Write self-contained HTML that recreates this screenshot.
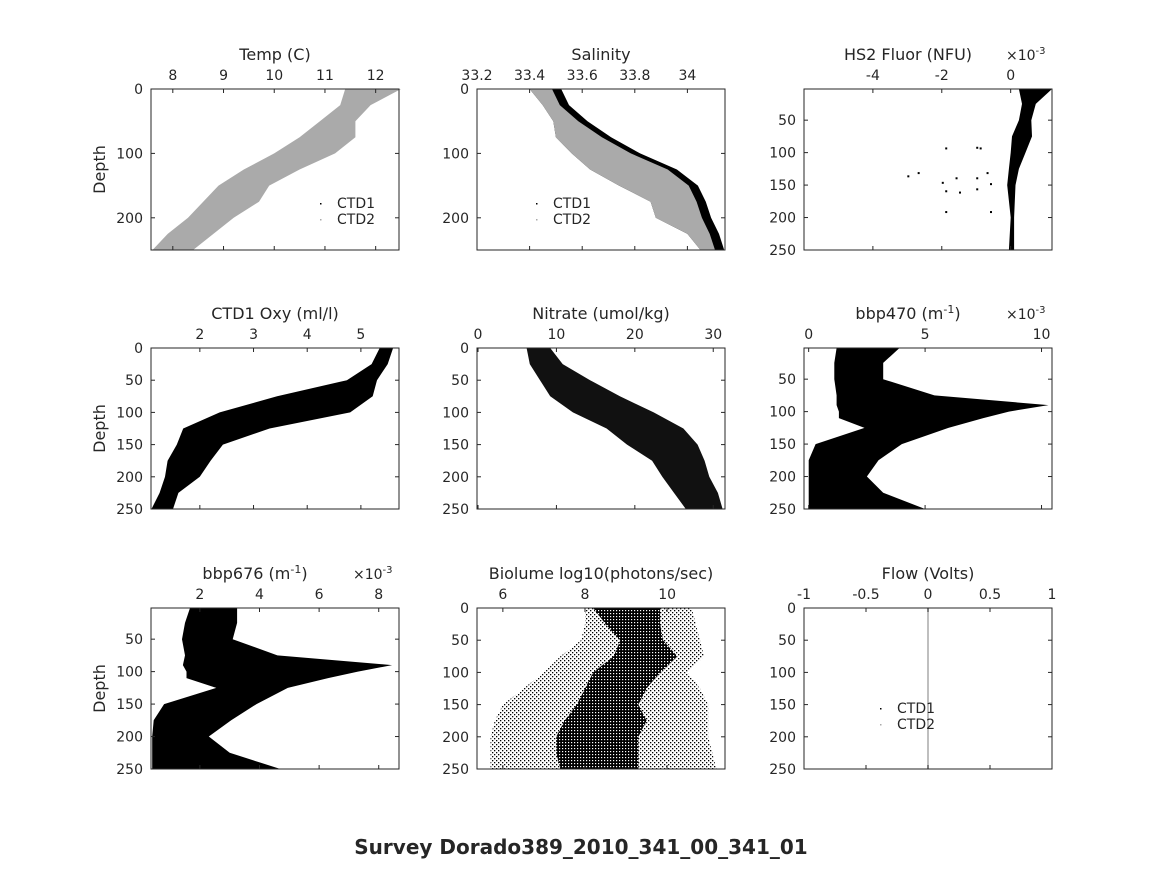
<!DOCTYPE html>
<html><head><meta charset="utf-8"><style>
body{margin:0;background:#fff}
svg text{font-family:"DejaVu Sans","Liberation Sans",sans-serif;fill:#262626}
</style></head><body>
<svg id="fig" width="1164" height="864" xmlns="http://www.w3.org/2000/svg">
<defs>
<pattern id="stip" width="3" height="3" patternUnits="userSpaceOnUse"><rect x="0" y="0" width="3" height="3" fill="#000"/><rect x="1" y="1" width="1.2" height="1.2" fill="#fff"/></pattern>
<pattern id="stip2" width="4" height="4" patternUnits="userSpaceOnUse"><rect x="0" y="0" width="1.3" height="1.3" fill="#000"/><rect x="2" y="2" width="1.3" height="1.3" fill="#000"/></pattern>
</defs>
</svg>
<script>
// ---- data (depth levels and envelope values) ----
const depthLevels = [0,25,50,75,100,125,150,175,200,225,250];
const tempLo = [11.4,11.3,10.9,10.5,10.0,9.4,8.9,8.6,8.3,7.9,7.6];
const tempHi = [12.5,11.9,11.6,11.6,11.2,10.5,9.9,9.7,9.2,8.8,8.4];
const salLo = [33.40,33.45,33.49,33.50,33.56,33.63,33.74,33.86,33.88,34.00,34.05];
const salHi = [33.52,33.55,33.62,33.71,33.82,33.96,34.04,34.07,34.09,34.12,34.14];
const oxyLo = [5.35,5.2,4.74,3.44,2.37,1.69,1.57,1.4,1.35,1.25,1.1];
const oxyHi = [5.6,5.5,5.3,5.22,4.8,3.3,2.43,2.2,2.0,1.6,1.5];
const nitLo = [6.2,6.6,7.9,9.2,12.1,16.4,19,22.2,23.5,25,26.5];
const nitHi = [9.2,10.8,14.3,18.1,22.4,26.2,28,28.9,29.5,30.6,31.2];
const optDepths = [2,25,50,75,90,100,110,125,150,175,200,225,250];
const bbp470Lo = [1.2,1.1,1.1,1.2,1.2,1.3,1.3,2.4,0.3,0.0,0.0,0.0,0.0];
const bbp470Hi = [3.9,3.2,3.2,5.4,10.3,8.6,7.5,6.0,4.0,3.0,2.5,3.2,5.0];
const bbp676Lo = [1.67,1.5,1.4,1.5,1.43,1.55,1.55,2.55,0.8,0.45,0.4,0.4,0.4];
const bbp676Hi = [3.25,3.25,3.1,4.6,8.45,7.3,6.3,4.95,3.9,3.05,2.3,3.0,4.7];
const fluorDepths = [2,25,50,75,100,125,150,200,250];
const fluorLo = [0.24,0.33,0.24,0.04,0.0,-0.05,-0.1,0.0,-0.05];
const fluorHi = [1.2,0.73,0.6,0.62,0.43,0.24,0.14,0.1,0.1];
const fluorSpikeX = [-1.9,-0.9,-1.0,-3.0,-2.7,-2.0,-1.6,-0.7,-1.0,-1.9,-1.5,-0.6,-1.9,-0.6,-1.0];
const fluorSpikeY = [92,92,91,135,130,145,138,130,138,158,160,147,190,190,155];
const bioCoreLo = [8.2,8.5,8.86,8.7,8.2,8.0,7.8,7.5,7.3,7.3,7.4];
const bioCoreHi = [9.83,9.83,9.9,10.25,9.83,9.5,9.3,9.5,9.3,9.3,9.3];
const bioSpreadLo = [8.0,8.0,7.9,7.4,7.0,6.5,6.0,5.8,5.7,5.7,5.7];
const bioSpreadHi = [10.6,10.7,10.8,10.9,10.5,10.8,11.0,11.0,11.0,11.1,11.2];
const flowValues = [0,0];
const flowDepthsLine = [0,250];

const NS="http://www.w3.org/2000/svg";
const svg=document.getElementById('fig');
function mk(tag,attrs,parent){const e=document.createElementNS(NS,tag);for(const k in attrs)e.setAttribute(k,attrs[k]);(parent||svg).appendChild(e);return e;}

function panel(o){
  const g=mk('g',{});
  
  
  const X=v=>o.x0+(v-o.xmin)/(o.xmax-o.xmin)*(o.x1-o.x0);
  const Y=d=>o.y0+(d-o.dmin)/(250-o.dmin)*(o.y1-o.y0);
  o.X=X;o.Y=Y;o.g=g;
  mk('rect',{x:o.x0,y:o.y0,width:o.x1-o.x0,height:o.y1-o.y0,fill:'#fff'},g);
  const cg=mk('g',{},g); o.cg=cg;
  if(o.draw)o.draw(o);
  mk('rect',{x:o.x0,y:o.y0,width:o.x1-o.x0,height:o.y1-o.y0,fill:'none',stroke:'#262626','stroke-width':1},g);
  o.xticks.forEach((t,i)=>{const x=X(t);
    mk('line',{x1:x,y1:o.y0,x2:x,y2:o.y0+4,stroke:'#262626'},g);
    mk('line',{x1:x,y1:o.y1,x2:x,y2:o.y1-4,stroke:'#262626'},g);
    const tx=mk('text',{x:x,y:o.y0-9,'text-anchor':'middle','font-size':14},g);tx.textContent=o.xlabels[i];
    
    
  });
  o.yticks.forEach(t=>{const y=Y(t);
    mk('line',{x1:o.x0,y1:y,x2:o.x0+4,y2:y,stroke:'#262626'},g);
    mk('line',{x1:o.x1,y1:y,x2:o.x1-4,y2:y,stroke:'#262626'},g);
    const tx=mk('text',{x:o.x0-8,y:y+5,'text-anchor':'end','font-size':14},g);tx.textContent=t;
    
    
  });
  const ti=mk('text',{x:(o.x0+o.x1)/2+(o.tdx||0),y:o.y0-29,'text-anchor':'middle','font-size':16},g);
  ti.innerHTML=o.title;
  
  
  if(o.exp){const e=mk('text',{x:o.x1-46,y:o.y0-29,'font-size':14},g);e.innerHTML='×10<tspan dy="-6" font-size="10">-3</tspan>';
    
    }
  if(o.ylab){const t=mk('text',{x:0,y:0,'text-anchor':'middle','font-size':16,transform:`translate(${o.x0-46},${(o.y0+o.y1)/2}) rotate(-90)`},g);t.textContent='Depth';
    
    }
  return o;
}
function band(o,ds,lo,hi,fill,name){
  let pts=ds.map((d,i)=>o.X(lo[i]).toFixed(1)+','+o.Y(d).toFixed(1));
  for(let i=ds.length-1;i>=0;i--)pts.push(o.X(hi[i]).toFixed(1)+','+o.Y(ds[i]).toFixed(1));
  const p=mk('polygon',{points:pts.join(' '),fill:fill},o.cg);
  
  
}
function legend(o,x,y){
  mk('rect',{x:x-17,y:y-5,width:1.5,height:1.5,fill:'#000'},o.g);
  const t1=mk('text',{x:x,y:y,'font-size':14},o.g);t1.textContent='CTD1';
  
  
  mk('rect',{x:x-17,y:y+11,width:1.5,height:1.5,fill:'#aaa'},o.g);
  const t2=mk('text',{x:x,y:y+16,'font-size':14},o.g);t2.textContent='CTD2';
  
  
}
const C=[151,399,477,725,804,1052], R=[[89,250],[348,509],[608,769]];
const d0ticks=[0,100,200], dticks=[0,50,100,150,200,250], d50ticks=[50,100,150,200,250];

panel({name:'temp-panel',x0:C[0],x1:C[1],y0:R[0][0],y1:R[0][1],xmin:7.57,xmax:12.46,dmin:0,
 xticks:[8,9,10,11,12],xlabels:['8','9','10','11','12'],yticks:d0ticks,title:'Temp (C)',ylab:true,
 draw:o=>{band(o,depthLevels,tempLo,tempHi,'#aaa','temp-ctd2-band');legend(o,337,208);}});
panel({name:'salinity-panel',x0:C[2],x1:C[3],y0:R[0][0],y1:R[0][1],xmin:33.2,xmax:34.143,dmin:0,
 xticks:[33.2,33.4,33.6,33.8,34],xlabels:['33.2','33.4','33.6','33.8','34'],yticks:d0ticks,title:'Salinity',
 draw:o=>{band(o,depthLevels,salLo,salHi,'#000','salinity-ctd1-band');
   band(o,depthLevels,salLo,salHi.map(v=>v-0.035),'#aaa','salinity-ctd2-band');legend(o,553,208);}});
panel({name:'fluor-panel',x0:C[4],x1:C[5],y0:R[0][0],y1:R[0][1],xmin:-6.0,xmax:1.2,dmin:2,
 xticks:[-4,-2,0],xlabels:['-4','-2','0'],yticks:d50ticks,title:'HS2 Fluor (NFU)',exp:true,tdx:-20,
 draw:o=>{band(o,fluorDepths,fluorLo,fluorHi,'#000','fluor-band');
   fluorSpikeX.forEach((v,i)=>{const r=mk('rect',{x:o.X(v),y:o.Y(fluorSpikeY[i]),width:2,height:2,fill:'#000'},o.cg);
     
     });}});
panel({name:'oxygen-panel',x0:C[0],x1:C[1],y0:R[1][0],y1:R[1][1],xmin:1.09,xmax:5.71,dmin:0,
 xticks:[2,3,4,5],xlabels:['2','3','4','5'],yticks:dticks,title:'CTD1 Oxy (ml/l)',ylab:true,
 draw:o=>band(o,depthLevels,oxyLo,oxyHi,'#000','oxygen-band')});
panel({name:'nitrate-panel',x0:C[2],x1:C[3],y0:R[1][0],y1:R[1][1],xmin:-0.13,xmax:31.5,dmin:0,
 xticks:[0,10,20,30],xlabels:['0','10','20','30'],yticks:dticks,title:'Nitrate (umol/kg)',
 draw:o=>band(o,depthLevels,nitLo,nitHi,'#111','nitrate-band')});
panel({name:'bbp470-panel',x0:C[4],x1:C[5],y0:R[1][0],y1:R[1][1],xmin:-0.2,xmax:10.45,dmin:2,
 xticks:[0,5,10],xlabels:['0','5','10'],yticks:d50ticks,title:'bbp470 (m<tspan dy="-6" font-size="11">-1</tspan><tspan dy="6">)</tspan>',exp:true,tdx:-20,
 draw:o=>band(o,optDepths,bbp470Lo,bbp470Hi,'#000','bbp470-band')});
panel({name:'bbp676-panel',x0:C[0],x1:C[1],y0:R[2][0],y1:R[2][1],xmin:0.36,xmax:8.68,dmin:2,
 xticks:[2,4,6,8],xlabels:['2','4','6','8'],yticks:d50ticks,title:'bbp676 (m<tspan dy="-6" font-size="11">-1</tspan><tspan dy="6">)</tspan>',exp:true,ylab:true,tdx:-20,
 draw:o=>band(o,optDepths,bbp676Lo,bbp676Hi,'#000','bbp676-band')});
panel({name:'biolume-panel',x0:C[2],x1:C[3],y0:R[2][0],y1:R[2][1],xmin:5.37,xmax:11.41,dmin:0,
 xticks:[6,8,10],xlabels:['6','8','10'],yticks:dticks,title:'Biolume log10(photons/sec)',
 draw:o=>{band(o,depthLevels,bioSpreadLo,bioSpreadHi,'url(#stip2)','biolume-sparse');
   band(o,depthLevels,bioCoreLo,bioCoreHi,'url(#stip)','biolume-core');}});
panel({name:'flow-panel',x0:C[4],x1:C[5],y0:R[2][0],y1:R[2][1],xmin:-1,xmax:1,dmin:0,
 xticks:[-1,-0.5,0,0.5,1],xlabels:['-1','-0.5','0','0.5','1'],yticks:dticks,title:'Flow (Volts)',
 draw:o=>{const l=mk('line',{x1:o.X(flowValues[0]),y1:o.Y(flowDepthsLine[0]),x2:o.X(flowValues[1]),y2:o.Y(flowDepthsLine[1]),stroke:'#aaa','stroke-width':1.5},o.cg);
   
   
   legend(o,897,713);}});
const st=mk('text',{x:581,y:854,'text-anchor':'middle','font-size':20,'font-weight':'bold',fill:'#000'});
st.textContent='Survey Dorado389_2010_341_00_341_01';


</script>
</body></html>
